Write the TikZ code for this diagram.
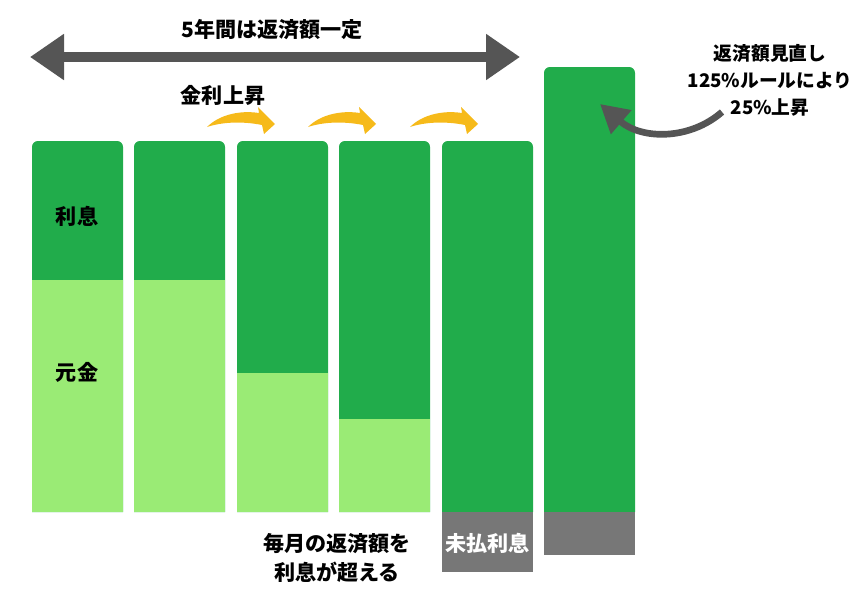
\documentclass[tikz,border=0pt]{standalone}
\usepackage{fontspec}
\newfontfamily\cjk{Noto Sans CJK JP}
\usetikzlibrary{arrows.meta}
\definecolor{dgreen}{HTML}{21AC4B}
\definecolor{lgreen}{HTML}{9AEB75}
\definecolor{ugray}{HTML}{777777}
\definecolor{agray}{HTML}{555555}
\definecolor{yel}{HTML}{F6BA1A}

\begin{document}
\begin{tikzpicture}[x=0.03cm, y=-0.03cm]
		\tikzstyle{every node} = [font=\cjk\bfseries\fontsize{18}{24}\selectfont, inner sep=0pt, align=center]
		\useasboundingbox (0,0) rectangle (865,610);

		\foreach \x/\t/\s [count=\i] in {32/141/280, 134/141/280, 237/141/373, 339/141/419, 442/141/512, 544/67/512} {
			\fill[dgreen] (\x,512) [rounded corners=5] -- (\x,\t) -- (\x+91,\t) [sharp corners] -- (\x+91,512) -- cycle;
			\fill[lgreen] (\x,\s) rectangle (\x+91,512);
			\coordinate (b\i) at (\x+45.5,\t);
		}
		\fill[ugray] (442,512) rectangle (533,572);
		\fill[ugray] (544,512) rectangle (635,555);

		\node (rs) at (77,216) {利息};
		\node (gk) at (77,372) {元金};
		\node[text=white] (mb) at (487.5,543) {未払利息};
		\node (kj) at (337,558) {毎月の返済額を\\利息が超える};
		\node (top) at (272,30) {5年間は返済額一定};
		\node (up) at (223,95) {金利上昇};
		\node[font=\cjk\bfseries\fontsize{16}{23}\selectfont] (nt) at (770,80) {返済額見直し\\125\%ルールにより\\25\%上昇};

		\coordinate (al) at (30,57);
		\coordinate (ar) at (520,57);
		\draw[agray, line width=0.3cm, {Triangle[length=1.02cm, width=1.32cm]}-{Triangle[length=1.02cm, width=1.32cm]}] (al) -- (ar);

		\foreach \x in {207, 308, 410}
			\fill[yel, shift={(\x,127)}] (0,0) .. controls (12,-12) and (32,-17) .. (52,-14) -- (51,-20) -- (68,-3) -- (57,7) -- (55,-2) .. controls (35,-6) and (15,-5) .. (0,0);

		\coordinate (ct) at (722,112);
		\coordinate (ch) at (600,104);
		\draw[agray, line width=0.2cm, -{Triangle[length=0.84cm, width=0.9cm]}] (ct) .. controls (690,140) and (642,140) .. (ch);
\end{tikzpicture}
\end{document}
